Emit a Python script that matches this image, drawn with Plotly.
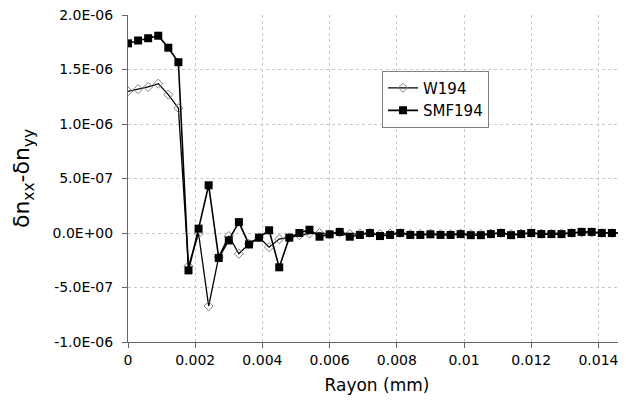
import plotly.graph_objects as go

# Radius (mm), sampled every 0.0003 mm
rayon = [round(0.0003 * k, 4) for k in range(50)]

w194 = [1.30e-6, 1.32e-6, 1.34e-6, 1.37e-6, 1.27e-6, 1.145e-6, -3.05e-7, -5e-9, -6.7e-7, -2.2e-7,
        -2.8e-8, -1.9e-7, -1.0e-7, -4e-8, -1.3e-7, -5.6e-8, -4e-8, -2e-8, -5e-9, 0.0,
        -1e-8, 5e-9, -1e-8, -5e-9, 0.0, -1e-8, -5e-9, 0.0, -1e-8, -1e-8,
        -5e-9, -1e-8, -1e-8, -5e-9, -1e-8, -1e-8, -5e-9, 0.0, -1e-8, -5e-9,
        0.0, -5e-9, -5e-9, -5e-9, 0.0, 5e-9, 5e-9, 0.0, 0.0, 0.0]

smf194 = [1.74e-6, 1.766e-6, 1.787e-6, 1.81e-6, 1.70e-6, 1.567e-6, -3.43e-7, 4e-8, 4.38e-7, -2.29e-7,
          -6.8e-8, 1.0e-7, -1.05e-7, -4.3e-8, 2.5e-8, -3.15e-7, -4.3e-8, 0.0, 3e-8, -3.4e-8,
          -1.2e-8, 1e-8, -3.4e-8, -1.8e-8, 0.0, -2.8e-8, -1.8e-8, 0.0, -1.8e-8, -1.8e-8,
          -1.2e-8, -1.8e-8, -1.8e-8, -1e-8, -2e-8, -2e-8, -1e-8, 0.0, -2e-8, -1e-8,
          0.0, -1e-8, -1e-8, -1e-8, 0.0, 1e-8, 1e-8, 0.0, 0.0, 0.0]

y_tickvals = [-1.0e-6, -5.0e-7, 0.0, 5.0e-7, 1.0e-6, 1.5e-6, 2.0e-6]
y_ticktext = ["-1.0E-06", "-5.0E-07", "0.0E+00", "5.0E-07", "1.0E-06", "1.5E-06", "2.0E-06"]

FONT = "DejaVu Sans"

fig = go.Figure()
fig.add_trace(go.Scatter(
    x=rayon, y=w194, name="W194", mode="lines+markers",
    line=dict(color="black", width=1.3),
    marker=dict(symbol="diamond-open", size=7, color="#808080", line=dict(width=1))))
fig.add_trace(go.Scatter(
    x=rayon, y=smf194, name="SMF194", mode="lines+markers",
    line=dict(color="black", width=1.6),
    marker=dict(symbol="square", size=8, color="black")))

fig.update_layout(
    width=618, height=400,
    margin=dict(l=119.5, r=0, t=7, b=66.3, autoexpand=False),
    paper_bgcolor="white", plot_bgcolor="white",
    font=dict(family=FONT, size=14, color="black"),
    showlegend=True,
    legend=dict(x=0.51, y=0.83, xanchor="left", yanchor="top",
                bgcolor="white", bordercolor="#808080", borderwidth=1,
                font=dict(family=FONT, size=15), tracegroupgap=0),
    xaxis=dict(range=[0, 0.01482], dtick=0.002, tick0=0, automargin=False,
               ticklabeloverflow="allow",
               showgrid=True, gridcolor="#c8c8c8", griddash="dot", gridwidth=1,
               showline=True, linecolor="#666666", linewidth=1,
               ticks="outside", ticklen=5, tickcolor="#666666",
               zeroline=False,
               title=dict(text="Rayon (mm)", font=dict(family=FONT, size=17), standoff=12)),
    yaxis=dict(range=[-1.0e-6, 2.0e-6], tickvals=y_tickvals, ticktext=y_ticktext, automargin=False,
               ticklabeloverflow="allow", ticklabelstandoff=6,
               showgrid=True, gridcolor="#c8c8c8", griddash="dot", gridwidth=1,
               showline=True, linecolor="#666666", linewidth=1,
               ticks="outside", ticklen=5, tickcolor="#666666",
               zeroline=False,
               title=dict(text="δn<sub>xx</sub>-δn<sub>yy</sub>", font=dict(family=FONT, size=22), standoff=16)),
)

fig.write_html("out.html")
